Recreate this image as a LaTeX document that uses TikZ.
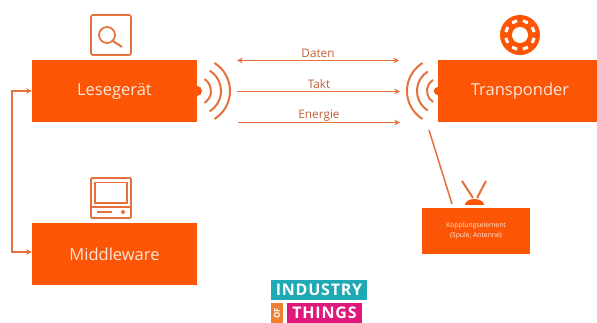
\documentclass[tikz,border=0pt]{standalone}
\usepackage{fontspec}
\setmainfont{Open Sans}
\newfontfamily\logofont[LetterSpace=5]{Open Sans}
\usepackage{xcolor}
\usetikzlibrary{calc}
\definecolor{boxorange}{HTML}{FB5505}
\definecolor{lineorange}{HTML}{E4703C}
\definecolor{boxtext}{HTML}{FDE6D8}
\definecolor{logoteal}{HTML}{1FA9B4}
\definecolor{logopink}{HTML}{E0187C}
\definecolor{logoorange}{HTML}{F08030}
\tikzset{
  block/.style={fill=boxorange, text=boxtext, inner sep=0pt, font=\fontsize{16.5}{20}\selectfont},
  link/.style={draw=lineorange, line width=1.5pt},
  wave/.style={draw=lineorange, line width=2pt},
  icon/.style={draw=lineorange, line width=1.7pt},
  linklabel/.style={text=lineorange!85!black, inner sep=0pt, font=\fontsize{11.8}{14}\selectfont},
  logotext/.style={text=white, inner sep=0pt, font=\logofont\bfseries\fontsize{16}{18}\selectfont}
}
\begin{document}
\begin{tikzpicture}[x=1pt,y=-1pt,>=stealth]
  \useasboundingbox (0,0) rectangle (597,323);

  % Define the main blocks
  \node[block, minimum width=165pt, minimum height=62pt] (reader) at (114.5,91) {Lesegerät};
  \node[block, minimum width=159pt, minimum height=62pt] (transponder) at (517.5,91) {\hspace*{5pt}Transponder};
  \node[block, minimum width=165pt, minimum height=62pt] (middleware) at (114.5,254) {Middleware};
  \node[block, minimum width=108pt, minimum height=46pt, align=center, font=\fontsize{6.8}{10}\selectfont] (coupling) at (476,231) {Kopplungselement\\(Spule, Antenne)};

  % Link between reader and middleware
  \coordinate (busA) at (12,91);
  \coordinate (busB) at (12,252);
  \draw[link,<->] (reader.west) -- (busA) -- (busB) -- (middleware.west |- busB);

  % Arrows between the two sets of waves
  \coordinate (datenL) at (237,60.5);
  \coordinate (datenR) at (399,60.5);
  \coordinate (taktL) at (237,91.5);
  \coordinate (taktR) at (400,91.5);
  \coordinate (energieL) at (238,122.5);
  \coordinate (energieR) at (400,122.5);
  \draw[link,<->] (datenL) -- (datenR);
  \draw[link,->] (taktL) -- (taktR);
  \draw[link,->] (energieL) -- (energieR);
  \node[linklabel] (daten) at (318,53) {Daten};
  \node[linklabel] (takt) at (319,84.5) {Takt};
  \node[linklabel] (energie) at (319,115.5) {Energie};

  % Waves of the reader
  \coordinate (waveL) at (197,91);
  \fill[boxorange] (waveL) circle (5);
  \foreach \r in {14,24,33}
    \draw[wave] (waveL) ++(-58:\r) arc (-58:58:\r);

  % Waves of the transponder
  \coordinate (waveR) at (440,91);
  \foreach \r in {13,23,33}
    \draw[wave] (waveR) ++(122:\r) arc (122:238:\r);
  \fill[boxorange] (transponder.west) circle (4);

  % Line to the coupling element
  \coordinate (pinA) at (429,130);
  \coordinate (pinB) at (452,204);
  \draw[link] (pinA) -- (pinB);

  % Antenna
  \draw[wave] (462,181) -- (473,198);
  \draw[wave] (486,181) -- (477,198);
  \fill[boxorange] (465,205) arc (180:360:9.5 and 6) -- cycle;

  % Magnifier icon
  \draw[icon, rounded corners=2pt] (91,15) rectangle (131,55);
  \draw[icon] (107,35) circle (8);
  \draw[icon, line width=2pt] (113,41) -- (122,47);

  % Computer icon
  \draw[icon, rounded corners=1pt] (91,178) rectangle (131,218);
  \draw[icon] (95,182.5) rectangle (127,203);
  \draw[icon] (91,207) -- (131,207);
  \draw[icon] (97,212) -- (112,212);
  \fill[lineorange] (123,212) circle (2);

  % Bearing icon
  \fill[boxorange] (520,35) circle (20);
  \fill[white] (520,35) circle (8);
  \foreach \a in {0,45,...,315}
    \draw[white, line width=3pt] (520,35) ++(\a+12:14.5) arc (\a+12:\a+33:14.5);

  % Logo
  \node[fill=logoteal, minimum width=96pt, minimum height=20pt, inner sep=0pt] (logotop) at (319,290) {};
  \node[logotext] (industry) at (319,290) {INDUSTRY};
  \node[fill=logoorange, minimum width=12pt, minimum height=20pt, inner sep=0pt] (logoof) at (277,313) {};
  \node[text=white, inner sep=0pt, rotate=90, font=\bfseries\fontsize{8}{9}\selectfont] (of) at (277,313) {OF};
  \node[fill=logopink, minimum width=75pt, minimum height=20pt, inner sep=0pt] (logothings) at (324.5,313) {};
  \node[logotext] (things) at (324.5,313) {THINGS};
\end{tikzpicture}
\end{document}
